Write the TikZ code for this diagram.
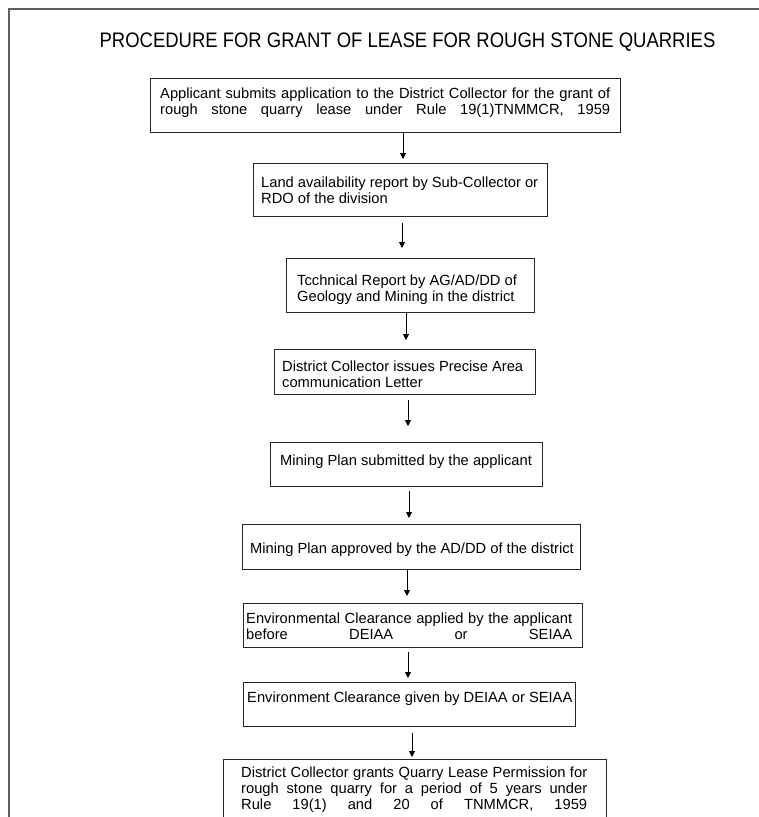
\documentclass[tikz,border=0pt]{standalone}
\usepackage{fontspec}
\setmainfont{Liberation Sans}
\usetikzlibrary{arrows.meta}
\definecolor{framegray}{HTML}{5E5E5E}
\definecolor{boxline}{HTML}{262626}
\tikzset{
  stepbox/.style={draw=boxline, line width=1.3pt, inner sep=0pt, anchor=north west, fill=white},
  steptext/.style={inner sep=0pt, anchor=north west, align=left, text=black,
    font=\fontsize{14.7}{16}\selectfont},
  titletext/.style={inner sep=0pt, anchor=base, font=\fontsize{21}{24}\selectfont},
  arr/.style={draw=black, line width=1pt, -{Triangle[length=6pt,width=6pt]}},
}
\begin{document}
\begin{tikzpicture}[x=1pt, y=-1pt]
\useasboundingbox (0,0) rectangle (759,817);
\clip (0,0) rectangle (759,817);
% page frame
\draw[framegray, line width=2pt] (759,8.5) -- (8.5,8.5) -- (8.5,830);
% title
\node[titletext] (title) at (407.5,47) {\scalebox{0.88}[1]{PROCEDURE FOR GRANT OF LEASE FOR ROUGH STONE QUARRIES}};
% boxes
\node[stepbox, minimum width=470pt, minimum height=54pt] (b1) at (150,78) {};
\node[stepbox, minimum width=294pt, minimum height=53pt] (b2) at (253,163) {};
\node[stepbox, minimum width=248pt, minimum height=54pt] (b3) at (286,258) {};
\node[stepbox, minimum width=261pt, minimum height=45pt] (b4) at (274,349) {};
\node[stepbox, minimum width=272pt, minimum height=44pt] (b5) at (270,442) {};
\node[stepbox, minimum width=338pt, minimum height=45pt] (b6) at (242,524) {};
\node[stepbox, minimum width=339pt, minimum height=44pt] (b7) at (243,603) {};
\node[stepbox, minimum width=332pt, minimum height=44pt] (b8) at (243,682) {};
\node[stepbox, minimum width=383pt, minimum height=70pt] (b9) at (223,759) {};
% texts
\node[steptext] (t1) at (160,87.3) {\makebox[450pt][s]{Applicant submits application to the District Collector for the grant of}\\
  \makebox[450pt][s]{rough stone quarry lease under Rule 19(1)TNMMCR, 1959}};
\node[steptext] (t2) at (261,176.3) {Land availability report by Sub-Collector or\\RDO of the division};
\node[steptext] (t3) at (297,274.3) {Tcchnical Report by AG/AD/DD of\\Geology and Mining in the district};
\node[steptext] (t4) at (282,360.3) {District Collector issues Precise Area\\communication Letter};
\node[steptext] (t5) at (280,454.3) {Mining Plan submitted by the applicant};
\node[steptext] (t6) at (250,542.3) {Mining Plan approved by the AD/DD of the district};
\node[steptext] (t7) at (246,612.3) {\makebox[326pt][s]{Environmental Clearance applied by the applicant}\\
  \makebox[326pt][s]{before DEIAA or SEIAA}};
\node[steptext] (t8) at (247,691.3) {Environment Clearance given by DEIAA or SEIAA};
\node[steptext] (t9) at (241,766.3) {\makebox[346pt][s]{District Collector grants Quarry Lease Permission for}\\
  \makebox[346pt][s]{rough stone quarry for a period of 5 years under}\\
  \makebox[346pt][s]{Rule 19(1) and 20 of TNMMCR, 1959}};
% arrow columns
\coordinate (ax1) at (403,0);
\coordinate (ax2) at (402,0);
\coordinate (ax3) at (406,0);
\coordinate (ax4) at (408,0);
\coordinate (ax5) at (409,0);
\coordinate (ax6) at (407,0);
\coordinate (ax7) at (408,0);
\coordinate (ax8) at (412,0);
% arrows
\draw[arr, shorten <=0pt, shorten >=4pt] (b1.south -| ax1) -- (b2.north -| ax1);
\draw[arr, shorten <=6pt, shorten >=10pt] (b2.south -| ax2) -- (b3.north -| ax2);
\draw[arr, shorten <=0pt, shorten >=9pt] (b3.south -| ax3) -- (b4.north -| ax3);
\draw[arr, shorten <=5pt, shorten >=16pt] (b4.south -| ax4) -- (b5.north -| ax4);
\draw[arr, shorten <=4pt, shorten >=6pt] (b5.south -| ax5) -- (b6.north -| ax5);
\draw[arr, shorten <=0pt, shorten >=7pt] (b6.south -| ax6) -- (b7.north -| ax6);
\draw[arr, shorten <=4pt, shorten >=4pt] (b7.south -| ax7) -- (b8.north -| ax7);
\draw[arr, shorten <=6pt, shorten >=2pt] (b8.south -| ax8) -- (b9.north -| ax8);
\end{tikzpicture}
\end{document}
